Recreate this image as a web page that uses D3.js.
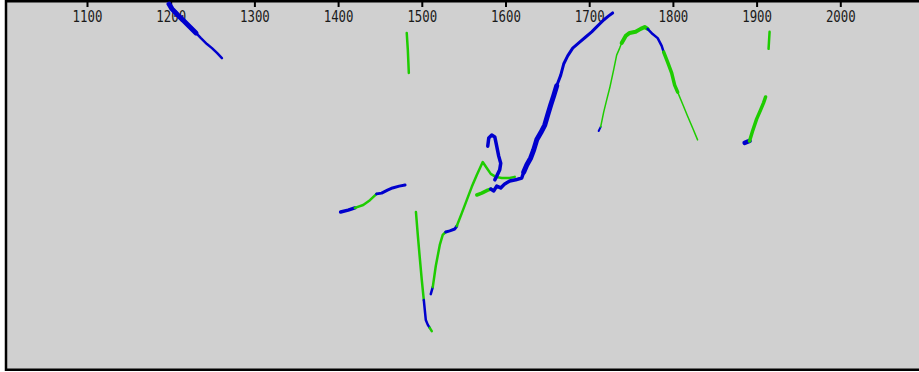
<!DOCTYPE html>
<html>
<head>
<meta charset="utf-8">
<script src="https://cdn.jsdelivr.net/npm/d3@7"></script>
<style>
  html, body { margin: 0; padding: 0; background: #fff; overflow: hidden; }
</style>
</head>
<body>
<div id="chart"></div>
<script>
// tick labels along the top edge
const yearTicks = [1100, 1200, 1300, 1400, 1500, 1600, 1700, 1800, 1900, 2000];

// runs of [year, value], value in arbitrary units (0 bottom .. 100 top)
const blue1200 = [[1198, 98.9], [1201.5, 97.6], [1208.7, 95.9], [1215.8, 94.3], [1223, 92.7], [1230.2, 91.1]];
const blue1230 = [[1230.2, 91.1], [1236.1, 89.7], [1243.3, 88.1], [1249.3, 87.0], [1255.3, 85.7], [1261.2, 84.3]];
const green1483 = [[1482, 91.1], [1483.3, 86.5], [1484.5, 80.3]];
const blue1403 = [[1403, 42.7], [1412, 43.2], [1420, 43.8]];
const green1420 = [[1420, 43.8], [1430, 44.6], [1438, 45.9], [1446, 47.6]];
const blue1446 = [[1446, 47.6], [1452, 47.8], [1459, 48.6], [1465, 49.2], [1473, 49.7], [1480, 50.0]];
const greenDrop = [[1493, 42.7], [1495.2, 36.5], [1497.6, 30.3], [1500, 24.3], [1502.4, 18.9]];
const blueDrop = [[1502.4, 18.9], [1503.6, 16.2], [1504.8, 13.5], [1507.2, 12.2], [1509.5, 11.4]];
const greenTip = [[1509.5, 11.4], [1511.9, 10.5]];
const blueRise = [[1510.7, 20.5], [1513.1, 22.4]];
const greenRise = [[1513.1, 22.4], [1516.7, 28.1], [1521.5, 33.8], [1525, 36.5], [1528.6, 37.3]];
const blueStep = [[1528.6, 37.3], [1533.4, 37.6], [1539.4, 38.1], [1541.8, 38.9]];
const greenClimb = [[1541.8, 38.9], [1547.8, 42.4], [1553.7, 45.9], [1559.7, 49.5], [1565.7, 52.7], [1572.8, 56.2],
  [1577.6, 54.6], [1582.4, 53.0], [1588.3, 52.2], [1595.5, 51.9], [1605.1, 51.9], [1611, 52.2]];
const blueHook = [[1578.8, 60.5], [1580, 62.7], [1583.6, 63.5], [1587.2, 63.0], [1589.5, 60.5], [1591.9, 57.8],
  [1594.3, 55.9], [1593.1, 54.1], [1589.5, 52.4], [1587.2, 51.4]];
const greenLow = [[1565.7, 47.3], [1571.6, 47.8], [1578.8, 48.6], [1582.4, 48.9]];
const blueMainLow = [[1582.4, 48.9], [1586, 48.4], [1589.5, 49.7], [1594.3, 49.2], [1599.1, 50.3], [1605.1, 51.1],
  [1612.2, 51.4], [1619.4, 51.9], [1621.8, 53.5]];
const blueMainMid = [[1621.8, 53.5], [1625.4, 55.4], [1630.1, 57.3], [1633.7, 59.5], [1637.3, 62.2],
  [1642.1, 64.1], [1646.9, 66.2], [1650.4, 68.9], [1654, 71.6], [1657.6, 74.1], [1661.2, 76.8]];
const blueMainHigh = [[1661.2, 76.8], [1666, 79.7], [1669.5, 82.7], [1674.3, 84.9], [1680.3, 87.0], [1688.6, 88.6],
  [1695.8, 90.0], [1703, 91.4], [1710.1, 93.0], [1717.3, 94.6], [1723.3, 95.7], [1728, 96.5]];
const blueArcStart = [[1711.3, 64.6], [1713.7, 65.7]];
const greenArcRise = [[1713.7, 65.7], [1717.3, 69.7], [1720.9, 73.0], [1724.5, 76.2], [1729.2, 81.1], [1732.8, 85.1],
  [1736.4, 87.0], [1738.8, 88.4]];
const greenArcTop = [[1738.8, 88.4], [1743.6, 90.3], [1748.3, 91.1], [1755.5, 91.4], [1761.5, 92.2], [1766.3, 92.7],
  [1769.8, 92.2]];
const blueArcTop = [[1769.8, 92.2], [1775.8, 90.8], [1781.8, 89.7], [1786.6, 87.6], [1789, 85.9]];
const greenArcFall = [[1789, 85.9], [1793.7, 83.2], [1798.5, 80.3], [1802.1, 77.0], [1805.7, 75.1]];
const greenArcTail = [[1805.7, 75.1], [1811.6, 71.9], [1817.6, 68.6], [1823.6, 65.4], [1829.5, 62.2]];
const blue1890 = [[1885.7, 61.4], [1891.6, 61.9]];
const green1895 = [[1891.6, 61.9], [1895.2, 64.6], [1900, 67.8], [1904.8, 70.3], [1908.3, 72.2], [1910.7, 73.8]];
const green1915 = [[1915.5, 91.4], [1914.3, 86.8]];

const W = 919, H = 372;
const BLUE = '#0000cd', GREEN = '#1ecc00';

const svg = d3.select('#chart').append('svg')
  .attr('width', W)
  .attr('height', H);

svg.append('rect')
  .attr('x', 6).attr('y', 1.25)
  .attr('width', 1000).attr('height', 368.5)
  .attr('fill', '#d0d0d0')
  .attr('stroke', '#000')
  .attr('stroke-width', 2.5);

const x = d3.scaleLinear().domain([1100, 2000]).range([87, 840.3]);
const y = d3.scaleLinear().domain([0, 100]).range([370, 0]);

// Top axis: ticks hang down from the frame, labels under them
const axis = svg.append('g')
  .attr('transform', 'translate(0,1)')
  .call(d3.axisBottom(x).tickValues(yearTicks).tickFormat(d3.format('d')).tickSize(6).tickPadding(4.5));
axis.select('.domain').remove();
axis.selectAll('.tick line').attr('stroke', '#000').attr('stroke-width', 2);
axis.selectAll('.tick text')
  .attr('fill', '#1a1a1a')
  .attr('font-family', 'DejaVu Sans Mono, monospace')
  .attr('font-size', 15.5)
  .attr('transform', 'scale(0.8,1)');

const line = d3.line().x(d => x(d[0])).y(d => y(d[1]));

// [run, colour, width]
const runs = [
  [blue1200, BLUE, 5],
  [blue1230, BLUE, 2.5],
  [green1483, GREEN, 2.5],
  [blue1403, BLUE, 3.5],
  [green1420, GREEN, 2.5],
  [blue1446, BLUE, 3],
  [greenDrop, GREEN, 2.5],
  [blueDrop, BLUE, 2.5],
  [greenTip, GREEN, 2.5],
  [blueRise, BLUE, 2.5],
  [greenRise, GREEN, 2.5],
  [blueStep, BLUE, 3],
  [greenClimb, GREEN, 2.5],
  [blueHook, BLUE, 3.5],
  [greenLow, GREEN, 3.5],
  [blueMainLow, BLUE, 3.5],
  [blueMainMid, BLUE, 5],
  [blueMainHigh, BLUE, 3],
  [blueArcStart, BLUE, 2],
  [greenArcRise, GREEN, 1.5],
  [greenArcTop, GREEN, 4],
  [blueArcTop, BLUE, 2.5],
  [greenArcFall, GREEN, 3.5],
  [greenArcTail, GREEN, 1.5],
  [blue1890, BLUE, 4.5],
  [green1895, GREEN, 3.5],
  [green1915, GREEN, 2.5]
];

svg.append('g')
  .selectAll('path')
  .data(runs)
  .join('path')
  .attr('fill', 'none')
  .attr('stroke', d => d[1])
  .attr('stroke-width', d => d[2])
  .attr('stroke-linejoin', 'round')
  .attr('stroke-linecap', 'round')
  .attr('d', d => line(d[0]));
</script>
</body>
</html>
